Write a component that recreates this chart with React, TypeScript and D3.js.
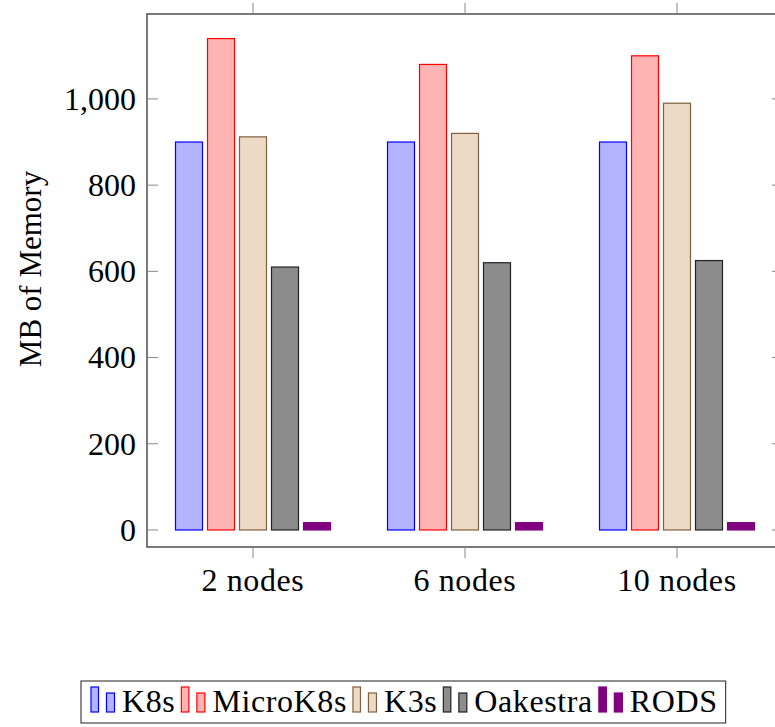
import React, { useEffect, useRef } from 'react';
import * as d3 from 'd3';

// values (MB of memory)
const categories = ['2 nodes', '6 nodes', '10 nodes'];
const seriesNames = ['K8s', 'MicroK8s', 'K3s', 'Oakestra', 'RODS'];
const k8s = [900, 900, 900];
const microk8s = [1140, 1080, 1100];
const k3s = [912, 920, 990];
const oakestra = [610, 620, 625];
const rods = [17, 17, 17];
const yTicks = [0, 200, 400, 600, 800, 1000];

const seriesValues = [k8s, microk8s, k3s, oakestra, rods];
const fills = ['#b3b3ff', '#ffb3b3', '#ecd9c6', '#8c8c8c', '#800080'];
const strokes = ['#0000ff', '#ff0000', '#80603f', '#222222', '#800080'];

const W = 775;
const H = 727;
const FONT = '"Liberation Serif", "Times New Roman", serif';

const App = () => {
  const ref = useRef<SVGSVGElement | null>(null);

  useEffect(() => {
    const svg = d3.select(ref.current);
    svg.selectAll('*').remove();

    const left = 147, right = 783, top = 14, bottom = 547;

    const x = d3.scaleBand<string>().domain(categories).range([left, right]);
    const inner = d3.scaleBand<string>().domain(seriesNames).range([-80, 80])
      .paddingInner(5 / 32).paddingOuter(5 / 64);
    const y = d3.scaleLinear().domain([-39.5, 1197]).range([bottom, top]);

    // bars
    seriesNames.forEach((name, si) => {
      svg.append('g')
        .selectAll('rect')
        .data(seriesValues[si])
        .enter()
        .append('rect')
        .attr('x', (d, i) => x(categories[i])! + x.bandwidth() / 2 + inner(name)!)
        .attr('y', (d) => y(d))
        .attr('width', inner.bandwidth())
        .attr('height', (d) => y(0) - y(d))
        .attr('fill', fills[si])
        .attr('stroke', strokes[si])
        .attr('stroke-width', 1.2);
    });

    // frame
    svg.append('rect')
      .attr('x', left).attr('y', top)
      .attr('width', right - left).attr('height', bottom - top)
      .attr('fill', 'none').attr('stroke', '#333').attr('stroke-width', 1.3);

    // y ticks (inside, both sides)
    const tk = svg.append('g').attr('stroke', '#888').attr('stroke-width', 1);
    yTicks.forEach((t) => {
      tk.append('line').attr('x1', left).attr('x2', left + 11).attr('y1', y(t)).attr('y2', y(t));
      tk.append('line').attr('x1', right - 11).attr('x2', right).attr('y1', y(t)).attr('y2', y(t));
    });
    // x ticks (outside, top and bottom)
    categories.forEach((c) => {
      const cx = x(c)! + x.bandwidth() / 2;
      tk.append('line').attr('x1', cx).attr('x2', cx).attr('y1', top).attr('y2', top - 11);
      tk.append('line').attr('x1', cx).attr('x2', cx).attr('y1', bottom).attr('y2', bottom + 11);
    });

    const fmt = d3.format(',');
    svg.append('g')
      .selectAll('text')
      .data(yTicks)
      .enter()
      .append('text')
      .attr('x', 136)
      .attr('y', (d) => y(d))
      .attr('dy', '0.34em')
      .attr('text-anchor', 'end')
      .style('font-family', FONT)
      .style('font-size', '32px')
      .text((d) => fmt(d));

    svg.append('g')
      .selectAll('text')
      .data(categories)
      .enter()
      .append('text')
      .attr('x', (d) => x(d)! + x.bandwidth() / 2)
      .attr('y', 591)
      .attr('text-anchor', 'middle')
      .style('font-family', FONT)
      .style('font-size', '32px')
      .style('letter-spacing', '0.6px')
      .text((d) => d);

    svg.append('text')
      .attr('transform', `translate(41,269) rotate(-90)`)
      .attr('text-anchor', 'middle')
      .style('font-family', FONT)
      .style('font-size', '31px')
      .text('MB of Memory');

    // legend
    const lg = svg.append('g');
    const box = lg.append('rect')
      .attr('y', 681).attr('height', 42)
      .attr('fill', 'white').attr('stroke', '#444').attr('stroke-width', 1.2);
    let cx = 91;
    seriesNames.forEach((name, si) => {
      lg.append('rect').attr('x', cx).attr('y', 687).attr('width', 7.5).attr('height', 25)
        .attr('fill', fills[si]).attr('stroke', strokes[si]).attr('stroke-width', 1.2);
      lg.append('rect').attr('x', cx + 15.5).attr('y', 693).attr('width', 8).attr('height', 19)
        .attr('fill', fills[si]).attr('stroke', strokes[si]).attr('stroke-width', 1.2);
      const t = lg.append('text')
        .attr('x', cx + 31)
        .attr('y', 712)
        .style('font-family', FONT)
        .style('font-size', '32px')
        .style('letter-spacing', '0.6px')
        .text(name);
      const len = (t.node() as SVGTextElement).getComputedTextLength();
      cx = cx + 31 + len + 6;
    });
    box.attr('x', 81).attr('width', cx - 81 + 2);
  }, []);

  return (
    <svg
      ref={ref}
      width={W}
      height={H}
      style={{ position: 'absolute', left: 0, top: 0, background: 'white' }}
    />
  );
};

export default App;
